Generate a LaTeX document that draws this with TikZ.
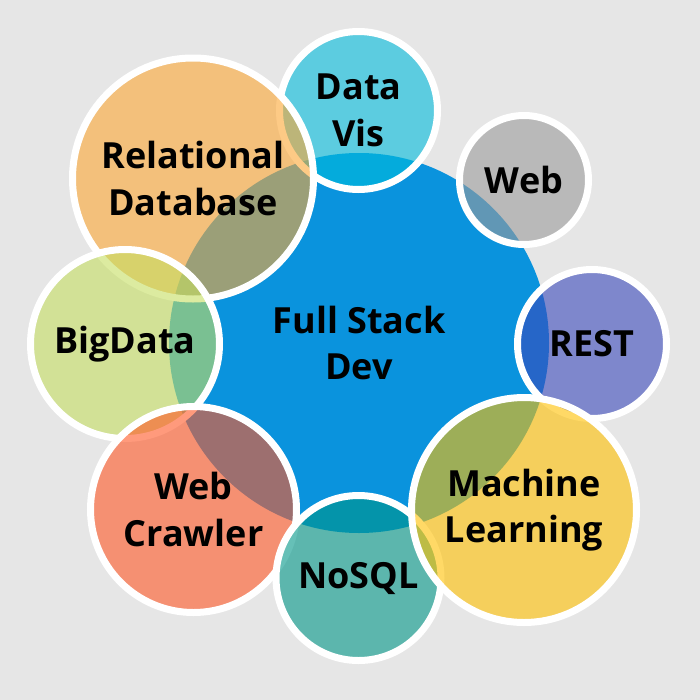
\documentclass[tikz,border=0pt]{standalone}
\usepackage{fontspec}
\setmainfont{Open Sans}
\usepackage{tikz}

\definecolor{backgray}{RGB}{230,230,230}
\definecolor{stackblue}{RGB}{10,147,221}
\definecolor{visblue}{RGB}{0,187,220}
\definecolor{webgray}{RGB}{155,155,155}
\definecolor{restblue}{RGB}{58,73,187}
\definecolor{mlyellow}{RGB}{255,192,0}
\definecolor{nosqlteal}{RGB}{0,150,136}
\definecolor{crawlred}{RGB}{255,87,38}
\definecolor{bigdatagreen}{RGB}{197,223,97}
\definecolor{dborange}{RGB}{253,167,53}

\begin{document}
\begin{tikzpicture}[x=0.75pt,y=-0.75pt,
		bubble/.style={circle, inner sep=0pt, minimum size=#1*1.5pt, draw=white, line width=5.25pt,
			fill opacity=0.6, text opacity=1, align=center,
			font=\fontsize{27}{35}\selectfont\bfseries}]
		% page
		\useasboundingbox (0,0) rectangle (700,700);
		\fill[backgray] (0,0) rectangle (700,700);
		% centre
		\node[circle, inner sep=0pt, minimum size=380*0.75pt, fill=stackblue, align=center,
			font=\fontsize{27}{35}\selectfont\bfseries] (dev) at (359,343) {Full Stack\\Dev};
		% small circles, in the order they overlap
		\node[bubble=79, fill=visblue] (datavis) at (358.5,110.5) {Data\\Vis};
		\node[bubble=64.5, fill=webgray] (web) at (524,180) {Web};
		\node[bubble=74.5, fill=restblue] (rest) at (592,344) {REST};
		\node[bubble=120.5, fill=dborange] (reldb) at (193,178.5) {Relational\\Database};
		\node[bubble=94.5, fill=bigdatagreen] (bigdata) at (125,344) {BigData};
		\node[bubble=103, fill=crawlred] (crawler) at (193.5,509.5) {Web\\Crawler};
		\node[bubble=82.5, fill=nosqlteal] (nosql) at (358.5,578) {NoSQL};
		\node[bubble=112.5, fill=mlyellow] (ml) at (524,510) {Machine\\Learning};
	\end{tikzpicture}
\end{document}
